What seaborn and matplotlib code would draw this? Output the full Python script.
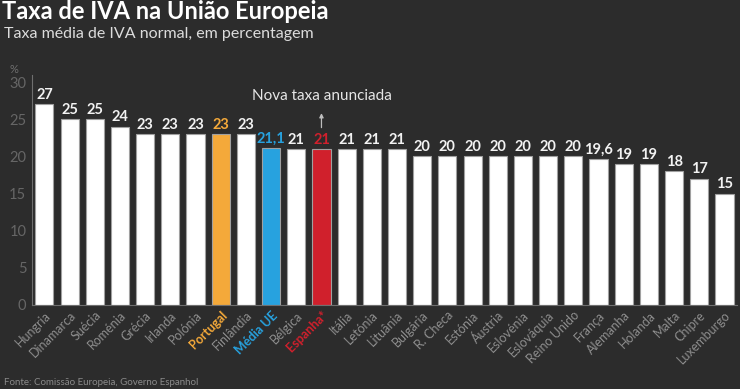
import matplotlib
matplotlib.use("Agg")

import matplotlib.pyplot as plt
import numpy as np
import pandas as pd
import seaborn as sns

# dados
paises = ["Hungria", "Dinamarca", "Suécia", "Roménia", "Grécia", "Irlanda", "Polónia",
          "Portugal", "Finlândia", "Média UE", "Bélgica", "Espanha*", "Itália", "Letónia",
          "Lituânia", "Bulgária", "R. Checa", "Estónia", "Áustria", "Eslovénia",
          "Eslováquia", "Reino Unido", "França", "Alemanha", "Holanda", "Malta",
          "Chipre", "Luxemburgo"]
taxas = [27, 25, 25, 24, 23, 23, 23, 23, 23, 21.1, 21, 21, 21, 21, 21, 20, 20, 20, 20,
         20, 20, 20, 19.6, 19, 19, 18, 17, 15]
destaques = {"Portugal": "#f4a93a", "Média UE": "#27a2df", "Espanha*": "#d0202c"}
yticks = [0, 5, 10, 15, 20, 25, 30]

BG = "#2c2c2c"
GREY = "#8e8e8e"

sns.set_theme(style="dark")
plt.rcParams.update({"font.family": ["Lato", "DejaVu Sans"]})

df = pd.DataFrame({"pais": paises, "taxa": taxas})
palette = {p: destaques.get(p, "#ffffff") for p in paises}

fig = plt.figure(figsize=(7.4, 3.89), dpi=100, facecolor=BG)
ax = fig.add_axes([0.043, 0.216, 0.953, 0.592])
ax.set_facecolor(BG)

sns.barplot(data=df, x="pais", y="taxa", hue="pais", palette=palette, legend=False,
            width=0.72, edgecolor="#a0a0a0", linewidth=0.8, saturation=1, ax=ax)

ax.set_xlim(-0.48, len(paises) - 0.52)
ax.set_ylim(0, 31)
ax.set_yticks(yticks)
ax.set_yticklabels([str(t) for t in yticks], color="#666666", fontsize=10.5)
ax.set_xlabel("")
ax.set_ylabel("")
ax.tick_params(axis="y", length=0, pad=4)
ax.tick_params(axis="x", length=0, pad=3)
ax.set_xticks(np.arange(len(paises) + 1) - 0.5, minor=True)
ax.tick_params(axis="x", which="minor", length=3, color="#6f6f6f", width=0.8)
ax.grid(False)
for side in ["top", "right"]:
    ax.spines[side].set_visible(False)
for side in ["left", "bottom"]:
    ax.spines[side].set_color("#6f6f6f")
    ax.spines[side].set_linewidth(0.8)

ax.set_xticks(range(len(paises)))
ax.set_xticklabels(paises, rotation=45, ha="right", rotation_mode="anchor", fontsize=9)
for lab in ax.get_xticklabels():
    nome = lab.get_text()
    if nome in destaques:
        lab.set_color(destaques[nome])
        lab.set_fontweight("bold")
    else:
        lab.set_color(GREY)

for i, (p, v) in enumerate(zip(paises, taxas)):
    txt = f"{v:g}".replace(".", ",")
    ax.text(i, v + 0.3, txt, ha="center", va="bottom", fontsize=10.5, fontweight="bold",
            color=destaques.get(p, "#f2f2f2"))

i_esp = paises.index("Espanha*")
ax.annotate("", xy=(i_esp, 26.2), xytext=(i_esp, 23.5),
            arrowprops=dict(arrowstyle="-|>", color="#bdbdbd", lw=0.9, mutation_scale=6))
ax.text(i_esp, 27.2, "Nova taxa anunciada", ha="center", va="bottom",
        fontsize=11, color="#e6e6e6")

ax.text(-0.025, 1.0, "%", transform=ax.transAxes, ha="center", va="bottom",
        fontsize=8, color="#6f6f6f")

fig.text(0.003, 0.952, "Taxa de IVA na União Europeia", ha="left", va="baseline",
         fontsize=17, fontweight="bold", color="#ffffff")
fig.text(0.005, 0.903, "Taxa média de IVA normal, em percentagem", ha="left", va="baseline",
         fontsize=11.5, color="#dcdcdc")
fig.text(0.005, 0.01, "Fonte: Comissão Europeia, Governo Espanhol", ha="left",
         va="baseline", fontsize=7, color="#8a8a8a")

fig.savefig("out.png", dpi=100, facecolor=BG)
